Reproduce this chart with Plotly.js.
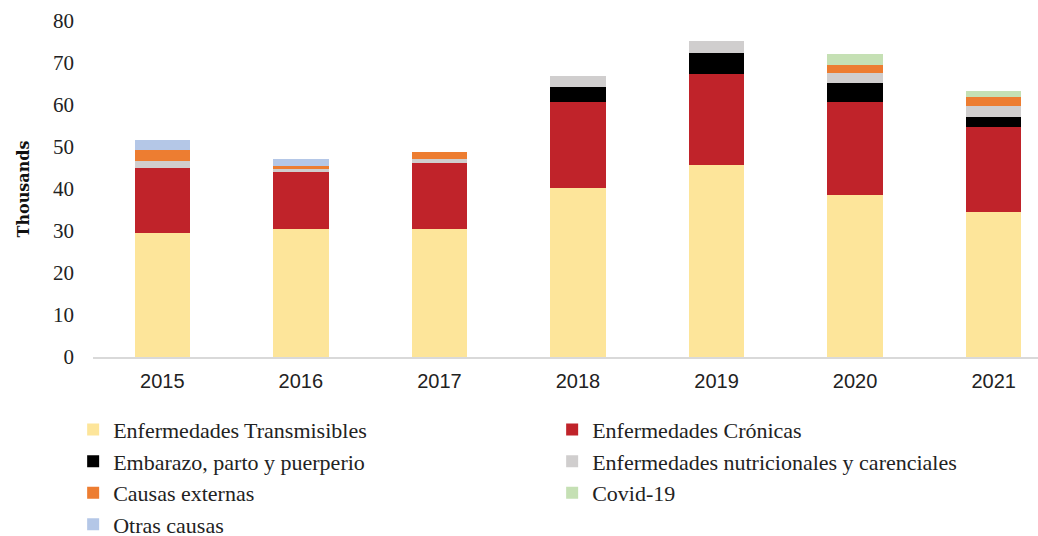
<!DOCTYPE html>
<html>
<head>
<meta charset="utf-8">
<script src="https://cdn.plot.ly/plotly-3.0.1.min.js"></script>
<style>html,body{margin:0;padding:0;background:#fff;}#chart{width:1038px;height:536px;}</style>
</head>
<body>
<div id="chart"></div>
<script>
const years = ['2015','2016','2017','2018','2019','2020','2021'];
const transmisibles = [29.6, 30.5, 30.5, 40.2, 45.7, 38.6, 34.5];
const cronicas      = [15.5, 13.5, 15.6, 20.5, 21.7, 22.0, 20.2];
const embarazo      = [0, 0, 0, 3.7, 4.9, 4.7, 2.4];
const nutricionales = [1.6, 0.8, 1.1, 2.5, 2.9, 2.4, 2.7];
const externas      = [2.6, 0.7, 1.7, 0, 0, 1.9, 2.1];
const covid         = [0, 0, 0, 0, 0, 2.5, 1.4];
const otras         = [2.4, 1.6, 0, 0, 0, 0, 0];

const seriesNames = ['Enfermedades Transmisibles','Enfermedades Crónicas','Embarazo, parto y puerperio',
  'Enfermedades nutricionales y carenciales','Causas externas','Covid-19','Otras causas'];
const seriesValues = [transmisibles, cronicas, embarazo, nutricionales, externas, covid, otras];
const seriesColors = ['#FDE59A','#C0232A','#000000','#D0CECE','#ED7D31','#C5E0B4','#B4C7E7'];

const traces = seriesNames.map((n,i)=>({
  type:'bar', name:n, x:years, y:seriesValues[i],
  marker:{color:seriesColors[i], line:{width:0}},
  hoverinfo:'x+y+name'
}));

const layout = {
  width:1038, height:536,
  margin:{l:93, r:0, t:21, b:179, autoexpand:false},
  barmode:'stack', bargap:0.6,
  paper_bgcolor:'#fff', plot_bgcolor:'#fff',
  font:{family:'Liberation Serif, serif', size:21, color:'#222'},
  xaxis:{type:'category', range:[-0.5,6.32], showgrid:false, zeroline:false,
    showline:true, linecolor:'#D9D9D9', linewidth:1.5,
    tickfont:{family:'Liberation Sans, Arial, sans-serif', size:20, color:'#222'},
    ticks:'', ticklabelstandoff:5},
  yaxis:{range:[0,80], dtick:10, showgrid:false, zeroline:false, showline:false,
    ticks:'', ticklabelstandoff:18,
    tickfont:{family:'Liberation Serif, serif', size:21, color:'#222'},
    title:{text:'<b>Thousands</b>', font:{family:'DejaVu Serif, serif', size:16, color:'#111'}, standoff:19}},
  legend:{orientation:'h', x:-0.021, xanchor:'left', y:-0.154, yanchor:'top',
    entrywidth:434, entrywidthmode:'pixels', traceorder:'normal',
    font:{family:'Liberation Serif, serif', size:22, color:'#222'}},
  showlegend:true
};

Plotly.newPlot('chart', traces, layout, {displayModeBar:false, staticPlot:true});
</script>
</body>
</html>
